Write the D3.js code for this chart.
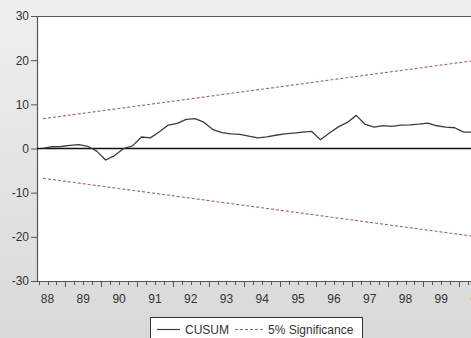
<!DOCTYPE html>
<html><head><meta charset="utf-8">
<script src="https://cdn.jsdelivr.net/npm/d3@7"></script>
<style>html,body{margin:0;padding:0;overflow:hidden;background:#e6e6e6}</style>
</head><body>
<script>
// ---- data ----
const periods = ["1988Q2","1988Q3","1988Q4","1989Q1","1989Q2","1989Q3","1989Q4","1990Q1","1990Q2","1990Q3","1990Q4",
"1991Q1","1991Q2","1991Q3","1991Q4","1992Q1","1992Q2","1992Q3","1992Q4","1993Q1","1993Q2","1993Q3","1993Q4",
"1994Q1","1994Q2","1994Q3","1994Q4","1995Q1","1995Q2","1995Q3","1995Q4","1996Q1","1996Q2","1996Q3","1996Q4",
"1997Q1","1997Q2","1997Q3","1997Q4","1998Q1","1998Q2","1998Q3","1998Q4","1999Q1","1999Q2","1999Q3","1999Q4",
"2000Q1","2000Q2"];
const cusum = [0.05,0.4,0.45,0.7,0.9,0.5,-0.6,-2.6,-1.6,0.0,0.6,
2.6,2.4,3.8,5.3,5.7,6.6,6.75,5.9,4.25,3.6,3.3,3.2,
2.8,2.4,2.65,3.0,3.3,3.5,3.7,3.9,2.0,3.5,4.9,5.9,
7.5,5.45,4.85,5.2,5.0,5.3,5.35,5.5,5.75,5.15,4.85,4.7,
3.7,3.7];
const sigPeriods = ["1988Q2","2000Q2"];
const sigUpper = [6.75, 19.85];
const sigLower = [-6.75, -19.85];
const yTicks = [30,20,10,0,-10,-20,-30];
const yearLabels = ["88","89","90","91","92","93","94","95","96","97","98","99","00"];
const firstYear = 1988;
const legendNames = ["CUSUM","5% Significance"];

// ---- layout ----
const W = 471, H = 338;
const plotL = 37, plotR = 495, plotT = 16, plotB = 281;
const font = "'Liberation Sans', Arial, sans-serif";

function t(p){ const y=+p.slice(0,4), q=+p.slice(5); return y + (q-1)/4 + 0.125; }

const x = d3.scaleLinear().domain([1988, 2000]).range([29.6, 459.2]);
const y = d3.scaleLinear().domain([-30, 30]).range([plotB, plotT]);

const svg = d3.select("body").append("svg").attr("width", W).attr("height", H)
  .style("display","block");

const defs = svg.append("defs");
const grad = defs.append("linearGradient").attr("id","bg").attr("x1",0).attr("y1",0).attr("x2",0).attr("y2",1);
grad.append("stop").attr("offset","0%").attr("stop-color","#efefef");
grad.append("stop").attr("offset","100%").attr("stop-color","#d9d9d9");
defs.append("clipPath").attr("id","clip").append("rect")
  .attr("x", plotL).attr("y", plotT).attr("width", plotR-plotL).attr("height", plotB-plotT);

svg.append("rect").attr("width", W).attr("height", H).attr("fill", "url(#bg)");
svg.append("rect").attr("x", plotL).attr("y", plotT).attr("width", plotR-plotL).attr("height", plotB-plotT)
  .attr("fill", "#ffffff");

// frame top
svg.append("line").attr("x1", plotL).attr("x2", plotR).attr("y1", plotT+0.5).attr("y2", plotT+0.5)
  .attr("stroke", "#555").attr("stroke-width", 1.2);

// Y axis (hyphen minus as in the reference)
const yAxis = d3.axisLeft(y).tickValues(yTicks).tickSize(6).tickPadding(2)
  .tickFormat(d => String(d));
const gy = svg.append("g").attr("transform", `translate(${plotL},0)`).call(yAxis);
gy.select(".domain").attr("stroke", "#555").attr("stroke-width", 1.2);
gy.selectAll(".tick line").attr("stroke", "#555");
gy.selectAll("text").attr("font-family", font).attr("font-size", 12).attr("fill", "#333");

// X axis: quarterly ticks, major at year starts
const qTicks = [];
for (let yr = firstYear; yr <= 2000; yr++) for (let q = 0; q < 4; q++) {
  const v = yr + q/4; if (x(v) >= plotL && x(v) <= W + 5) qTicks.push(v);
}
const gx = svg.append("g").attr("transform", `translate(0,${plotB})`);
gx.append("line").attr("x1", plotL).attr("x2", plotR).attr("y1", 0.5).attr("y2", 0.5)
  .attr("stroke", "#555").attr("stroke-width", 1.2);
gx.selectAll("line.tk").data(qTicks).join("line").attr("class","tk")
  .attr("x1", d => Math.round(x(d))+0.5).attr("x2", d => Math.round(x(d))+0.5)
  .attr("y1", 0).attr("y2", d => Math.abs(d - Math.round(d)) < 1e-9 ? 6 : 4)
  .attr("stroke", "#555");
gx.selectAll("text").data(yearLabels).join("text")
  .attr("x", (d,i) => x(firstYear + i + 0.5)).attr("y", 22)
  .attr("text-anchor", "middle").attr("font-family", font).attr("font-size", 12).attr("fill", "#333")
  .text(d => d);

const plot = svg.append("g").attr("clip-path", "url(#clip)");

// zero line
plot.append("line").attr("x1", plotL).attr("x2", plotR).attr("y1", y(0)).attr("y2", y(0))
  .attr("stroke", "#111").attr("stroke-width", 1.4);

// significance bands
const sigLine = d3.line().x((d,i) => x(t(sigPeriods[i]))).y(d => y(d));
[sigUpper, sigLower].forEach(s => {
  plot.append("path").attr("d", sigLine(s)).attr("fill", "none")
    .attr("stroke", "#996868").attr("stroke-width", 1.1).attr("stroke-dasharray", "3,2");
});

// CUSUM
const cLine = d3.line().x((d,i) => x(t(periods[i]))).y(d => y(d));
plot.append("path").attr("d", cLine(cusum)).attr("fill", "none")
  .attr("stroke", "#3c3c3c").attr("stroke-width", 1.3).attr("stroke-linejoin", "round");

// legend
const lg = svg.append("g");
lg.append("rect").attr("x", 150.5).attr("y", 317.5).attr("width", 212).attr("height", 24)
  .attr("fill", "#fff").attr("stroke", "#333").attr("stroke-width", 1);
lg.append("line").attr("x1", 157).attr("x2", 180).attr("y1", 329.5).attr("y2", 329.5)
  .attr("stroke", "#3c3c3c").attr("stroke-width", 1.2);
lg.append("text").attr("x", 185).attr("y", 333.5).attr("font-family", font).attr("font-size", 12)
  .attr("fill", "#333").text(legendNames[0]);
lg.append("line").attr("x1", 235).attr("x2", 263).attr("y1", 329.5).attr("y2", 329.5)
  .attr("stroke", "#996868").attr("stroke-width", 1.1).attr("stroke-dasharray", "3,2");
lg.append("text").attr("x", 268).attr("y", 333.5).attr("font-family", font).attr("font-size", 12)
  .attr("fill", "#333").text(legendNames[1]);
</script>
</body></html>
